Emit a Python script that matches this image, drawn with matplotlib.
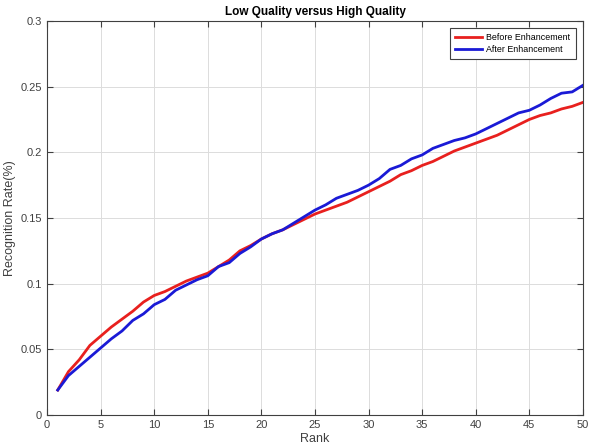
import numpy as np
import matplotlib
matplotlib.use("Agg")
import matplotlib.pyplot as plt

plt.rcParams['font.family'] = ['Liberation Sans', 'DejaVu Sans']

rank = list(range(1, 51))
before = [0.019, 0.033, 0.042, 0.053, 0.060, 0.067, 0.073, 0.079, 0.086, 0.091,
          0.094, 0.098, 0.102, 0.105, 0.108, 0.113, 0.118, 0.125, 0.129, 0.134,
          0.138, 0.141, 0.145, 0.149, 0.153, 0.156, 0.159, 0.162, 0.166, 0.170,
          0.174, 0.178, 0.183, 0.186, 0.190, 0.193, 0.197, 0.201, 0.204, 0.207,
          0.210, 0.213, 0.217, 0.221, 0.225, 0.228, 0.230, 0.233, 0.235, 0.238]
after = [0.019, 0.030, 0.037, 0.044, 0.051, 0.058, 0.064, 0.072, 0.077, 0.084,
         0.088, 0.095, 0.099, 0.103, 0.106, 0.113, 0.116, 0.123, 0.128, 0.134,
         0.138, 0.141, 0.146, 0.151, 0.156, 0.160, 0.165, 0.168, 0.171, 0.175,
         0.180, 0.187, 0.190, 0.195, 0.198, 0.203, 0.206, 0.209, 0.211, 0.214,
         0.218, 0.222, 0.226, 0.230, 0.232, 0.236, 0.241, 0.245, 0.246, 0.251]
xticks = [0, 5, 10, 15, 20, 25, 30, 35, 40, 45, 50]
yticks = [0, 0.05, 0.1, 0.15, 0.2, 0.25, 0.3]
ylabels = ['0', '0.05', '0.1', '0.15', '0.2', '0.25', '0.3']

fig = plt.figure(figsize=(5.9, 4.46), dpi=100)
ax = fig.add_axes([0.0797, 0.0695, 0.9083, 0.8835])

ax.plot(rank, before, color='#e8201e', lw=2, label='Before Enhancement')
ax.plot(rank, after, color='#1a1ad6', lw=2, label='After Enhancement')

ax.set_xlim(0, 50)
ax.set_ylim(0, 0.3)
ax.set_xticks(xticks)
ax.set_yticks(yticks)
ax.set_yticklabels(ylabels)
ax.grid(True, color='#dcdcdc', lw=0.7)
ax.set_axisbelow(True)
ax.tick_params(direction='in', top=True, right=True, labelsize=8,
               colors='#404040', length=4, width=0.8)
for s in ax.spines.values():
    s.set_color('#404040')
    s.set_linewidth(0.8)

ax.set_title('Low Quality versus High Quality', fontsize=8.5, fontweight='bold', pad=4)
ax.set_xlabel('Rank', fontsize=9, color='#404040', labelpad=2)
ax.set_ylabel('Recognition Rate(%)', fontsize=9, color='#404040')
ax.yaxis.set_label_coords(-0.058, 0.5)

leg = ax.legend(loc='upper right', fontsize=6.4, fancybox=False, edgecolor='#404040',
                framealpha=1, handlelength=3, borderpad=0.6, labelspacing=0.25,
                handletextpad=0.5, borderaxespad=0.8)
leg.get_frame().set_linewidth(0.8)

plt.savefig('out.png', dpi=100)
